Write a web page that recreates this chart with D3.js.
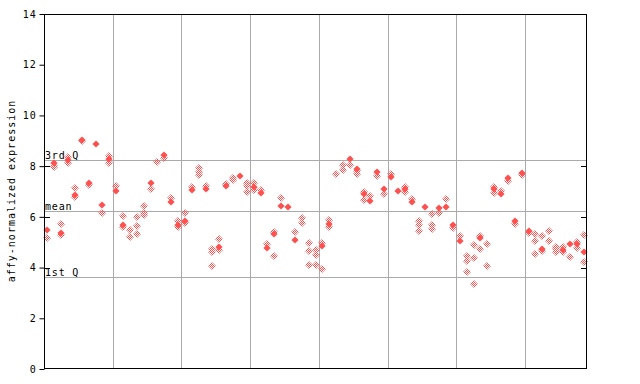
<!DOCTYPE html>
<html><head><meta charset="utf-8">
<script src="https://cdn.jsdelivr.net/npm/d3@7"></script>
<style>body{margin:0;background:#fff}svg{display:block}text{font-family:"DejaVu Sans Mono",monospace}</style>
</head><body><svg id="c" width="640" height="384"></svg>
<script>
// ---- data ----
const solidValues = [5.48,8.12,5.35,8.24,6.85,9.03,7.35,8.88,6.48,8.3,
  7.03,5.68,null,null,null,7.35,null,8.44,6.6,5.68,
  5.84,7.06,null,7.1,null,4.8,7.2,null,7.62,null,
  7.19,6.95,4.79,5.32,6.44,6.4,5.09,null,null,null,
  4.85,5.72,null,null,8.29,7.9,6.9,6.62,7.75,7.1,
  7.58,7.03,7.1,6.6,null,6.4,null,6.34,6.4,5.68,
  5.06,null,null,5.15,null,7.1,6.9,7.54,5.85,7.74,
  5.45,null,4.72,null,null,4.69,4.92,4.93,4.6];
const hollowValues = [[5.15],[8.0,7.95],[5.72,5.28],[8.35,8.13],[7.12,6.78],[8.98],[7.24],[],[6.14],[8.4,8.12],
  [7.22],[6.03,5.6],[5.48,5.19],[5.98,5.64,5.32],[6.43,6.14,6.07],[7.09],[8.18],[8.31],[6.73],[5.85,5.59],
  [6.14,5.77],[7.16],[7.94,7.78,7.65],[7.2],[4.73,4.6,4.06],[5.13,4.69],[7.28],[7.52,7.45],[],[7.32,7.22,6.97],
  [7.32,7.06],[7.06],[4.93],[5.39,4.46],[6.76],[],[5.39],[5.94,5.75],[4.96,4.65,4.1],[4.69,4.5,4.1],
  [4.95,3.93],[5.88,5.61],[7.68],[8.04,7.85],[8.04],[7.8,7.68],[6.99,6.66],[6.83],[7.62],[6.89],
  [7.68],[],[7.19,6.99],[6.7],[5.85,5.68,5.45],[],[6.11,5.68,5.51],[6.16],[6.7],[5.55],
  [5.24],[4.46,4.26,3.81],[4.89,4.36,3.34],[5.24,4.72],[4.93,4.06],[7.19,6.95],[7.02],[7.43],[5.72],[7.65],
  [5.35],[5.32,5.05,4.53],[5.24,4.65],[5.44,5.05],[4.8,4.72,4.63],[4.8,4.63],[4.4],[5.0,4.78],[5.28,4.21]];
const groupBreaks = [10,20,30,40,50,60,70];
const yTicks = [0,2,4,6,8,10,12,14];
const innerTicks = [4,6,8];
const refLines = [{label:"3rd Q", value:8.23},{label:"mean", value:6.22},{label:"1st Q", value:3.63}];
const yLabel = "affy-normalized expression";

// ---- layout ----
const L=44, R=587, T=14, B=369;
const n = solidValues.length;
const x = d3.scaleLinear().domain([0,n]).range([L,R]);
const y = d3.scaleLinear().domain([0,14]).range([B,T]);
const svg = d3.select("#c");
const red = "#ff5050";

const defs = svg.append("defs");
const pat = defs.append("pattern").attr("id","chk").attr("patternUnits","userSpaceOnUse")
  .attr("width",2).attr("height",2);
pat.append("rect").attr("x",0).attr("y",0).attr("width",1).attr("height",1).attr("fill",red);
pat.append("rect").attr("x",1).attr("y",1).attr("width",1).attr("height",1).attr("fill",red);

// grid
svg.append("g").selectAll("line").data(groupBreaks).join("line")
  .attr("x1",d=>Math.round(x(d))+0.5).attr("x2",d=>Math.round(x(d))+0.5)
  .attr("y1",T).attr("y2",B).attr("stroke","#aaaaaa").attr("stroke-width",1);
svg.append("g").selectAll("line").data(refLines).join("line")
  .attr("x1",L).attr("x2",R)
  .attr("y1",d=>Math.round(y(d.value))+0.5).attr("y2",d=>Math.round(y(d.value))+0.5)
  .attr("stroke","#aaaaaa").attr("stroke-width",1);
svg.append("g").selectAll("text").data(refLines).join("text")
  .attr("x",L+1).attr("y",d=>Math.round(y(d.value))-1)
  .attr("font-size",10).attr("letter-spacing",0.8).attr("fill","#000").text(d=>d.label);

// points
const diamond = (cx,cy,r)=>`M${cx},${cy-r}L${cx+r},${cy}L${cx},${cy+r}L${cx-r},${cy}Z`;
const hollowPts = [];
hollowValues.forEach((arr,i)=>arr.forEach(v=>hollowPts.push({i,v})));
svg.append("g").selectAll("path").data(hollowPts).join("path")
  .attr("d",d=>diamond(Math.round(x(d.i+0.5)),Math.round(y(d.v)),4))
  .attr("fill","url(#chk)");
const solidPts = solidValues.map((v,i)=>({i,v})).filter(d=>d.v!==null);
svg.append("g").selectAll("path").data(solidPts).join("path")
  .attr("d",d=>diamond(Math.round(x(d.i+0.5)),Math.round(y(d.v)),3.6))
  .attr("fill",red);

// frame
svg.append("rect").attr("x",L+0.5).attr("y",T+0.5).attr("width",R-L-1).attr("height",B-T-1)
  .attr("fill","none").attr("stroke","#000").attr("stroke-width",1);

// axis
const ax = svg.append("g").attr("transform",`translate(${L+0.5},0)`)
  .call(d3.axisLeft(y).tickValues(yTicks).tickSize(5).tickPadding(3).tickFormat(d3.format("d")));
ax.select(".domain").remove();
ax.selectAll("text").attr("font-family","DejaVu Sans Mono").attr("font-size",10).attr("letter-spacing",0.8);
// inner ticks
svg.append("g").selectAll("line").data(innerTicks).join("line")
  .attr("x1",L).attr("x2",L+6).attr("y1",d=>Math.round(y(d))+0.5).attr("y2",d=>Math.round(y(d))+0.5)
  .attr("stroke","#000");
svg.append("g").selectAll("line").data(innerTicks).join("line")
  .attr("x1",R-6).attr("x2",R).attr("y1",d=>Math.round(y(d))+0.5).attr("y2",d=>Math.round(y(d))+0.5)
  .attr("stroke","#000");

svg.append("text").attr("transform",`translate(15,191) rotate(-90)`)
  .attr("text-anchor","middle").attr("font-size",10).attr("letter-spacing",1)
  .text(yLabel);
</script></body></html>
